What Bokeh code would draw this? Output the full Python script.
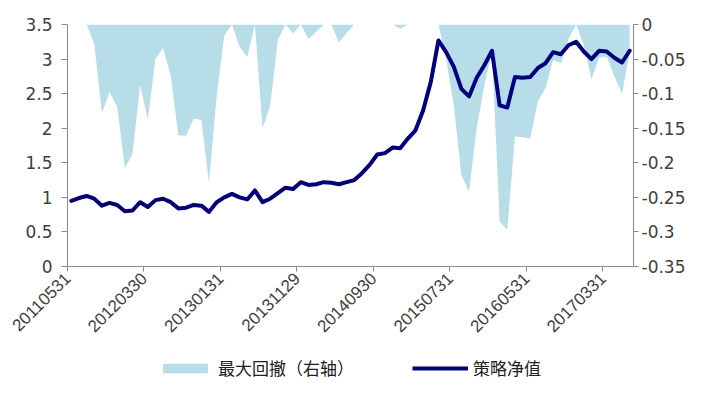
import math
from bokeh.plotting import figure
from bokeh.layouts import column
from bokeh.models import (Range1d, LinearAxis, FixedTicker, NumeralTickFormatter,
                          Legend, LegendItem, ColumnDataSource)
from bokeh.embed import file_html
from bokeh.resources import INLINE

# Month-end categories 2011-05 .. 2017-06 (74 months); labels shown every 10th
tick_labels = ["20110531", "20120330", "20130131", "20131129",
               "20140930", "20150731", "20160531", "20170331"]
n_months = 74

nav = [0.95, 0.99, 1.02, 0.98, 0.88, 0.92, 0.89, 0.80, 0.81, 0.93,
       0.86, 0.96, 0.98, 0.93, 0.84, 0.85, 0.89, 0.88, 0.79, 0.93,
       1.00, 1.05, 1.00, 0.97, 1.10, 0.93, 0.98, 1.06, 1.14, 1.12,
       1.22, 1.18, 1.19, 1.22, 1.21, 1.19, 1.22, 1.25, 1.35, 1.47,
       1.62, 1.64, 1.72, 1.71, 1.85, 1.97, 2.26, 2.67, 3.27, 3.10,
       2.89, 2.57, 2.46, 2.73, 2.91, 3.12, 2.33, 2.30, 2.74, 2.73,
       2.74, 2.87, 2.94, 3.10, 3.07, 3.20, 3.25, 3.11, 3.00, 3.12,
       3.11, 3.02, 2.95, 3.12]

drawdown = [0.0, 0.0, 0.0, -0.028, -0.128, -0.098, -0.119, -0.208, -0.187, -0.087,
            -0.137, -0.050, -0.034, -0.075, -0.160, -0.161, -0.136, -0.138, -0.229, -0.104,
            -0.016, 0.0, -0.032, -0.047, 0.0, -0.150, -0.118, -0.022, 0.0, -0.013,
            0.0, -0.021, -0.011, 0.0, 0.0, -0.026, -0.012, 0.0, 0.0, 0.0,
            0.0, 0.0, 0.0, -0.006, 0.0, 0.0, 0.0, 0.0, 0.0, -0.049,
            -0.117, -0.218, -0.242, -0.150, -0.088, -0.040, -0.285, -0.297, -0.162, -0.163,
            -0.165, -0.111, -0.092, -0.051, -0.056, -0.021, 0.0, -0.030, -0.079, -0.048,
            -0.047, -0.075, -0.100, -0.040]

series_names = ["最大回撤（右轴）", "策略净值"]

AREA_COLOR = "#b7dee8"
LINE_COLOR = "#000080"
AXIS_COLOR = "#8c8c8c"
LABEL_COLOR = "#404040"

x = list(range(n_months))
src = ColumnDataSource(dict(x=x, nav=nav, dd=drawdown, zero=[0.0] * n_months))

chart = figure(frame_width=566, frame_height=242,
               x_range=Range1d(-0.5, n_months - 0.5), y_range=Range1d(0, 3.5),
               output_backend="svg", toolbar_location=None,
               min_border_left=67, min_border_right=67,
               min_border_top=24, min_border_bottom=80)
chart.outline_line_color = None
chart.xgrid.visible = False
chart.ygrid.visible = False
chart.background_fill_color = "white"
chart.border_fill_color = "white"

chart.extra_y_ranges = {"dd": Range1d(-0.35, 0)}

chart.varea(x="x", y1="zero", y2="dd", source=src, y_range_name="dd",
            fill_color=AREA_COLOR, fill_alpha=1.0)
chart.line(x="x", y="nav", source=src, line_color=LINE_COLOR,
           line_width=4, line_join="round", line_cap="round")

def style_axis(ax, font, size):
    ax.axis_line_color = AXIS_COLOR
    ax.major_tick_line_color = AXIS_COLOR
    ax.minor_tick_line_color = None
    ax.major_tick_in = 0
    ax.major_tick_out = 5
    ax.major_label_text_font = font
    ax.major_label_text_font_size = size
    ax.major_label_text_color = LABEL_COLOR

# left axis
yl = chart.yaxis[0]
yl.ticker = FixedTicker(ticks=[0, 0.5, 1, 1.5, 2, 2.5, 3, 3.5])
yl.formatter = NumeralTickFormatter(format="0.[00]")
style_axis(yl, "DejaVu Sans", "17px")
yl.major_tick_out = 6
yl.major_label_standoff = 9

# right axis
yr = LinearAxis(y_range_name="dd",
                ticker=FixedTicker(ticks=[0, -0.05, -0.1, -0.15, -0.2, -0.25, -0.3, -0.35]),
                formatter=NumeralTickFormatter(format="0.[00]"))
style_axis(yr, "DejaVu Sans", "17px")
yr.major_label_standoff = 3
chart.add_layout(yr, "right")

# bottom axis
xa = chart.xaxis[0]
tick_pos = [-0.5 + 10 * k for k in range(len(tick_labels))]
xa.ticker = FixedTicker(ticks=tick_pos)
xa.major_label_overrides = {t: lab for t, lab in zip(tick_pos, tick_labels)}
style_axis(xa, "Liberation Sans", "17px")
xa.major_label_orientation = math.pi / 4
xa.major_label_standoff = 4

# legend strip (separate canvas so it is not clipped); the series are drawn
# out of its visible range, only their legend glyphs show
leg = figure(width=700, height=47, x_range=Range1d(1000, 1001), y_range=Range1d(1000, 1001),
             output_backend="svg", toolbar_location=None,
             min_border=0, min_border_left=0, min_border_right=0,
             min_border_top=0, min_border_bottom=0)
leg.axis.visible = False
leg.grid.visible = False
leg.outline_line_color = None
r_area = leg.varea(x="x", y1="zero", y2="dd", source=src, fill_color=AREA_COLOR)
r_line = leg.line(x="x", y="nav", source=src, line_color=LINE_COLOR, line_width=4)

legend = Legend(items=[LegendItem(label=series_names[0], renderers=[r_area]),
                       LegendItem(label=series_names[1], renderers=[r_line])],
                orientation="horizontal", location=(90, 13),
                glyph_width=56, glyph_height=12, label_standoff=5, spacing=58,
                padding=0, margin=0, border_line_color=None,
                background_fill_alpha=0,
                label_text_font="Noto Sans CJK SC", label_text_font_size="17px",
                label_text_color="#202020")
leg.add_layout(legend)

p = column(chart, leg, spacing=0)

open("out.html", "w").write(file_html(p, INLINE))
